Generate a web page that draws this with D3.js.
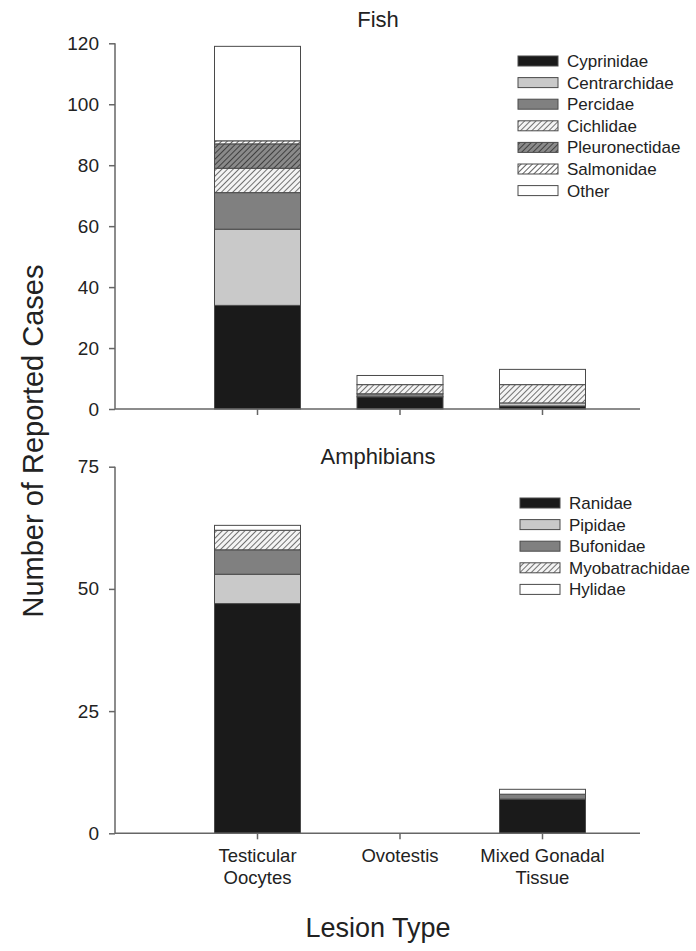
<!DOCTYPE html>
<html><head><meta charset="utf-8">
<script src="https://cdn.jsdelivr.net/npm/d3@7"></script>
<style>body{margin:0;background:#fff}text{font-family:"Liberation Sans",Arial,sans-serif;fill:#222}</style>
</head><body><svg id="c" width="696" height="951"></svg>
<script>
const categories = ["Testicular Oocytes","Ovotestis","Mixed Gonadal Tissue"];
const categoryLines = [["Testicular","Oocytes"],["Ovotestis"],["Mixed Gonadal","Tissue"]];
const fishFamilies = ["Cyprinidae","Centrarchidae","Percidae","Cichlidae","Pleuronectidae","Salmonidae","Other"];
const fishCyprinidae     = [34, 4, 1];
const fishCentrarchidae  = [25, 0, 1];
const fishPercidae       = [12, 1, 0];
const fishCichlidae      = [8, 3, 6];
const fishPleuronectidae = [8, 0, 0];
const fishSalmonidae     = [1, 0, 0];
const fishOther          = [31, 3, 5];
const fishTicks = [0,20,40,60,80,100,120];

const amphFamilies = ["Ranidae","Pipidae","Bufonidae","Myobatrachidae","Hylidae"];
const amphRanidae        = [47, 0, 7];
const amphPipidae        = [6, 0, 0];
const amphBufonidae      = [5, 0, 1];
const amphMyobatrachidae = [4, 0, 0];
const amphHylidae        = [1, 0, 1];
const amphTicks = [0,25,50,75];

const fishSeries = [fishCyprinidae,fishCentrarchidae,fishPercidae,fishCichlidae,fishPleuronectidae,fishSalmonidae,fishOther];
const amphSeries = [amphRanidae,amphPipidae,amphBufonidae,amphMyobatrachidae,amphHylidae];

const svg = d3.select("#c");
const defs = svg.append("defs");
function hatch(id, bg, line, w){
  const p = defs.append("pattern").attr("id",id).attr("patternUnits","userSpaceOnUse")
    .attr("width",4).attr("height",4).attr("patternTransform","rotate(45)");
  p.append("rect").attr("width",4).attr("height",4).attr("fill",bg);
  p.append("line").attr("x1",0).attr("y1",0).attr("x2",0).attr("y2",4).attr("stroke",line).attr("stroke-width",w);
}
hatch("hLight","#f4f4f4","#5a5a5a",1.7);
hatch("hDark","#8a8a8a","#333",1.7);
hatch("hSalm","#ffffff","#444",1.7);

const fishFills = ["#1a1a1a","#c9c9c9","#808080","url(#hLight)","url(#hDark)","url(#hSalm)","#ffffff"];
const amphFills = ["#1a1a1a","#c9c9c9","#808080","url(#hLight)","#ffffff"];

const x = d3.scaleLinear().domain([0,4]).range([115,685]);
const barW = 86;
const axisColor = "#666";

function panel(opts){
  const {series, families, fills, ticks, ymax, top, bottom, title, titleY, legendX, legendY, showLabels} = opts;
  const y = d3.scaleLinear().domain([0,ymax]).range([bottom, top]);
  const g = svg.append("g");
  const data = categories.map((c,i)=>{const o={cat:c,idx:i}; families.forEach((f,j)=>o[f]=series[j][i]); return o;});
  const stack = d3.stack().keys(families)(data);
  stack.forEach((layer,j)=>{
    g.append("g").selectAll("rect").data(layer.filter(d=>d[1]-d[0]>0)).join("rect")
      .attr("x",d=>x(d.data.idx+1)-barW/2).attr("width",barW)
      .attr("y",d=>y(d[1])).attr("height",d=>y(d[0])-y(d[1]))
      .attr("fill",fills[j]).attr("stroke","#4a4a4a").attr("stroke-width",1);
  });
  const ya = g.append("g").attr("transform",`translate(${x(0)},0)`)
    .call(d3.axisLeft(y).tickValues(ticks).tickSize(6).tickPadding(10).tickFormat(d3.format("d")));
  ya.select(".domain").attr("stroke",axisColor).attr("stroke-width",1.5).attr("d",`M-0,${top}V${bottom}`);
  ya.selectAll(".tick line").attr("stroke",axisColor).attr("stroke-width",1.5);
  ya.selectAll(".tick text").style("font-size","19px").style("font-family","Liberation Sans, Arial").attr("fill","#222");
  g.append("line").attr("x1",x(0)).attr("x2",640).attr("y1",bottom).attr("y2",bottom).attr("stroke",axisColor).attr("stroke-width",1.5);
  g.selectAll(".xt").data(categories).join("line").attr("class","xt")
    .attr("x1",(d,i)=>x(i+1)).attr("x2",(d,i)=>x(i+1)).attr("y1",bottom).attr("y2",bottom+6)
    .attr("stroke",axisColor).attr("stroke-width",1.5);
  if(showLabels){
    categoryLines.forEach((lines,i)=>{
      const t = g.append("text").attr("x",x(i+1)).attr("y",bottom+29).attr("text-anchor","middle").style("font-size","18.5px");
      lines.forEach((l,k)=>t.append("tspan").attr("x",x(i+1)).attr("dy",k?21.5:0).text(l));
    });
  }
  g.append("text").attr("x",378).attr("y",titleY).attr("text-anchor","middle").style("font-size","22px").text(title);
  const lg = g.append("g");
  families.forEach((f,j)=>{
    const ly = legendY + j*21.6;
    lg.append("rect").attr("x",legendX).attr("y",ly-5).attr("width",40).attr("height",10)
      .attr("fill",fills[j]).attr("stroke","#4a4a4a").attr("stroke-width",1);
    lg.append("text").attr("x",legendX+49).attr("y",ly+6).style("font-size","17px").text(f);
  });
}

panel({series:fishSeries,families:fishFamilies,fills:fishFills,ticks:fishTicks,ymax:120,top:43.3,bottom:409,
  title:"Fish",titleY:27,legendX:518,legendY:61,showLabels:false});
panel({series:amphSeries,families:amphFamilies,fills:amphFills,ticks:amphTicks,ymax:75,top:466.7,bottom:833.3,
  title:"Amphibians",titleY:464,legendX:520,legendY:503,showLabels:true});

svg.append("text").attr("transform","translate(43,441) rotate(-90)").attr("text-anchor","middle")
  .style("font-size","29px").text("Number of Reported Cases");
svg.append("text").attr("x",378).attr("y",937).attr("text-anchor","middle").style("font-size","27px").text("Lesion Type");
</script></body></html>
